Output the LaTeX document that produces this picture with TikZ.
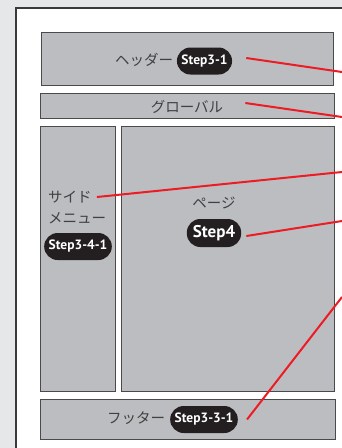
\documentclass[tikz,border=0pt]{standalone}
\usepackage{fontspec}
\newfontfamily\jpfont{Noto Sans CJK JP}
\newfontfamily\stepfont{PT Sans}
\definecolor{bggray}{HTML}{E6E7E8}
\definecolor{framecol}{HTML}{3A3A3A}
\definecolor{boxfill}{HTML}{BCBDC0}
\definecolor{boxline}{HTML}{4A4A4A}
\definecolor{pillcol}{HTML}{231F20}
\definecolor{redline}{HTML}{ED1C24}
\definecolor{jpcol}{HTML}{404040}
\tikzset{
  area/.style={draw=boxline, fill=boxfill, line width=1pt, inner sep=0pt, anchor=north west},
  jptext/.style={text=jpcol, font=\jpfont\fontsize{14.5}{16}\selectfont, inner sep=0pt},
  pill/.style={fill=pillcol, text=white, rounded corners=13.5pt, minimum height=27pt, inner xsep=4.5pt, inner ysep=0pt, font=\stepfont\bfseries\fontsize{13.5}{14}\selectfont},
  leader/.style={draw=redline, line width=2pt}
}
\begin{document}
\begin{tikzpicture}[x=1pt,y=-1pt]
\useasboundingbox (0,0) rectangle (342,448);
\clip (0,0) rectangle (342,448);
\fill[bggray] (0,0) rectangle (342,448);
\draw[draw=framecol, fill=white, line width=1.5pt] (16,8) rectangle (370,480);
% areas
\node[area, minimum width=292pt, minimum height=53pt] (header) at (41,32) {};
\node[area, minimum width=294pt, minimum height=25pt] (global) at (40,93) {};
\node[area, minimum width=75pt, minimum height=265pt] (side) at (40,126) {};
\node[area, minimum width=213pt, minimum height=265pt] (page) at (121,126) {};
\node[area, minimum width=295pt, minimum height=40pt] (footer) at (40,399) {};
% labels
\node[jptext, anchor=west] (hlab) at (115,60) {ヘッダー};
\node[pill] (hstep) at (204.5,61) {Step3-1};
\node[jptext] (glab) at (187,107) {グローバル};
\node[jptext, anchor=west] (slab1) at (48,197) {サイド};
\node[jptext, anchor=west] (slab2) at (48,218) {メニュー};
\node[pill] (sstep) at (78,246.5) {Step3-4-1};
\node[jptext] (plab) at (214,203) {ページ};
\node[pill, minimum height=28pt, inner xsep=6pt, font=\stepfont\bfseries\fontsize{17}{18}\selectfont] (pstep) at (214,233) {Step4};
\node[jptext, anchor=west] (flab) at (107,418) {フッター};
\node[pill] (fstep) at (204,419.5) {Step3-3-1};
% free ends
\coordinate (hend) at (342,72);
\coordinate (gend) at (342,117);
\coordinate (send) at (342,172);
\coordinate (pend) at (342,221);
\coordinate (fend) at (342,297);
% leaders
\draw[leader] ([xshift=14pt,yshift=3pt]hstep.east) -- (hend);
\draw[leader] ([xshift=22pt,yshift=4pt]glab.east) -- (gend);
\draw[leader] ([xshift=5pt]slab1.east) -- (send);
\draw[leader] ([xshift=5pt,yshift=-3pt]pstep.east) -- (pend);
\draw[leader] ([xshift=9pt]fstep.east) -- (fend);
\end{tikzpicture}
\end{document}
